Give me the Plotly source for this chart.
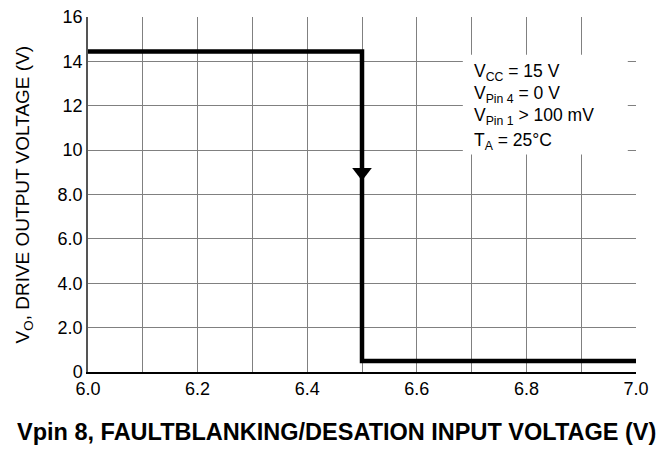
import plotly.graph_objects as go

# Data
x_step = [6.0, 6.5, 6.5, 7.0]
y_step = [14.45, 14.45, 0.5, 0.5]
arrow_x = [6.5]
arrow_y = [9.0]
x_ticks = [6.0, 6.2, 6.4, 6.6, 6.8, 7.0]
x_ticklabels = ["6.0", "6.2", "6.4", "6.6", "6.8", "7.0"]
y_ticks = [0, 2, 4, 6, 8, 10, 12, 14, 16]
y_ticklabels = ["0", "2.0", "4.0", "6.0", "8.0", "10", "12", "14", "16"]
cond_lines = ["V<sub>CC</sub> = 15 V", "V<sub>Pin 4</sub> = 0 V",
              "V<sub>Pin 1</sub> > 100 mV", "T<sub>A</sub> = 25°C"]
cond_y = [13.5, 12.5, 11.5, 10.4]

FONT = "Liberation Sans, Arial"

fig = go.Figure()
fig.add_trace(go.Scatter(x=x_step, y=y_step, mode="lines",
                         line=dict(color="black", width=4.5), hoverinfo="skip"))
fig.add_trace(go.Scatter(x=arrow_x, y=arrow_y, mode="markers",
                         marker=dict(symbol="triangle-down", size=17, color="black"),
                         hoverinfo="skip"))

# white box behind conditions
fig.add_shape(type="rect", xref="x", yref="y", x0=6.684, x1=6.985, y0=9.8, y1=14.3,
              fillcolor="white", line=dict(width=0), layer="above")

for t, yy in zip(cond_lines, cond_y):
    fig.add_annotation(x=6.7, y=yy, xref="x", yref="y", text=t, showarrow=False,
                       xanchor="left", yanchor="middle",
                       font=dict(family=FONT, size=17.5, color="black"))

# axis titles
fig.add_annotation(x=-0.117, y=0.5, xref="paper", yref="paper",
                   text="V<sub>O</sub>, DRIVE OUTPUT VOLTAGE (V)", showarrow=False,
                   textangle=-90, xanchor="center", yanchor="middle",
                   font=dict(family=FONT, size=19, color="black"))
fig.add_annotation(x=0.453, y=-0.169, xref="paper", yref="paper",
                   text="<b>Vpin 8, FAULTBLANKING/DESATION INPUT VOLTAGE (V)</b>",
                   showarrow=False, xanchor="center", yanchor="middle",
                   font=dict(family=FONT, size=23.5, color="black"))

fig.update_layout(
    width=664, height=445,
    margin=dict(l=80, r=36, t=9, b=81),
    paper_bgcolor="white", plot_bgcolor="white",
    showlegend=False,
    font=dict(family=FONT, color="black"),
)
fig.update_xaxes(range=[6.0, 7.0], showgrid=True, gridcolor="#808080", gridwidth=1,
                 tickvals=x_ticks, ticktext=x_ticklabels,
                 tickfont=dict(family=FONT, size=18, color="black"),
                 showline=True, linecolor="black", linewidth=1.5,
                 zeroline=False, ticks="", automargin=False, ticklabeloverflow="allow",
                 minor=dict(dtick=0.1, tick0=6.0, showgrid=True, gridcolor="#808080", gridwidth=1))
fig.update_yaxes(range=[0, 16], showgrid=True, gridcolor="#808080", gridwidth=1,
                 tickvals=y_ticks, ticktext=y_ticklabels,
                 tickfont=dict(family=FONT, size=18, color="black"),
                 showline=True, linecolor="#555555", linewidth=1.5,
                 zeroline=False, ticks="", automargin=False, ticklabeloverflow="allow")

fig.write_html("out.html")
